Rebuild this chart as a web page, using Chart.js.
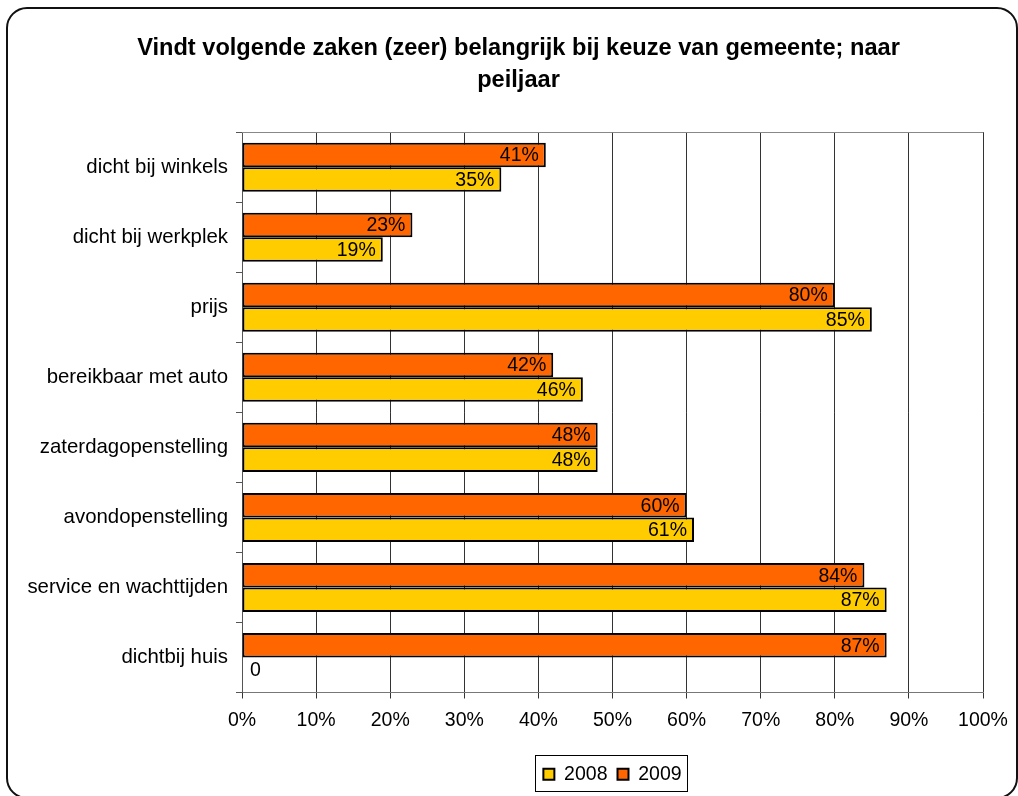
<!DOCTYPE html>
<html>
<head>
<meta charset="utf-8">
<script src="https://cdn.jsdelivr.net/npm/chart.js@4"></script>
<style>
  html, body { margin: 0; padding: 0; background: #fff; overflow: hidden; }
  #wrap { position: relative; width: 1018px; height: 796px; }
</style>
</head>
<body>
<div id="wrap"><canvas id="chart" width="1018" height="796"></canvas></div>
<script>
// Chart data
const categories = [
  'dicht bij winkels',
  'dicht bij werkplek',
  'prijs',
  'bereikbaar met auto',
  'zaterdagopenstelling',
  'avondopenstelling',
  'service en wachttijden',
  'dichtbij huis',
];
const values2009 = [41, 23, 80, 42, 48, 60, 84, 87];
const values2008 = [35, 19, 85, 46, 48, 61, 87, 0];
const xTicks = [0, 10, 20, 30, 40, 50, 60, 70, 80, 90, 100];

const FONT = '"Liberation Sans", Arial, sans-serif';
Chart.defaults.font.family = FONT;
Chart.defaults.color = '#000';

// Helper: format a bar label
const fmtLabel = (v) => (v === 0 ? '0' : v + '%');

// Rounded frame around the whole picture
const framePlugin = {
  id: 'frame',
  beforeDraw(chart) {
    const ctx = chart.ctx;
    ctx.save();
    ctx.fillStyle = '#fff';
    ctx.fillRect(0, 0, chart.width, chart.height);
    ctx.strokeStyle = '#111';
    ctx.lineWidth = 2;
    ctx.beginPath();
    ctx.roundRect(7, 8, 1010, 790, 20);
    ctx.stroke();
    ctx.restore();
  },
};

// Center the title on the whole frame, not on the padded area
const titleShiftPlugin = {
  id: 'titleShift',
  afterLayout(chart) {
    const t = chart.titleBlock;
    if (t) {
      t.left += 27;
      t.right += 27;
    }
  },
};

// Top border of plot area
const topLinePlugin = {
  id: 'topLine',
  beforeDatasetsDraw(chart) {
    const { ctx, chartArea } = chart;
    ctx.save();
    ctx.strokeStyle = '#888';
    ctx.lineWidth = 1;
    ctx.beginPath();
    ctx.moveTo(chartArea.left, Math.round(chartArea.top) + 0.5);
    ctx.lineTo(chartArea.right, Math.round(chartArea.top) + 0.5);
    ctx.stroke();
    ctx.restore();
  },
};

// Value labels inside the bar ends
const barLabelPlugin = {
  id: 'barLabels',
  afterDatasetsDraw(chart) {
    const ctx = chart.ctx;
    ctx.save();
    ctx.font = '19.5px ' + FONT;
    ctx.fillStyle = '#000';
    ctx.textBaseline = 'middle';
    chart.data.datasets.forEach((ds, i) => {
      const meta = chart.getDatasetMeta(i);
      meta.data.forEach((bar, j) => {
        const v = ds.data[j];
        const { x, y, base } = bar.getProps(['x', 'y', 'base'], true);
        if (v === 0) {
          ctx.textAlign = 'left';
          ctx.fillText(fmtLabel(v), base + 8, y + 1);
        } else {
          ctx.textAlign = 'right';
          ctx.fillText(fmtLabel(v), x - 7, y + 1);
        }
      });
    });
    ctx.restore();
  },
};

// Border around the legend
const legendBoxPlugin = {
  id: 'legendBox',
  afterDraw(chart) {
    const boxes = chart.legend && chart.legend.legendHitBoxes;
    if (!boxes || !boxes.length) return;
    let l = Infinity, r = -Infinity, t = Infinity, b = -Infinity;
    for (const h of boxes) {
      l = Math.min(l, h.left);
      r = Math.max(r, h.left + h.width);
      t = Math.min(t, h.top);
      b = Math.max(b, h.top + h.height);
    }
    const ctx = chart.ctx;
    ctx.save();
    ctx.strokeStyle = '#000';
    ctx.lineWidth = 1;
    ctx.strokeRect(Math.round(l - 8) + 0.5, Math.round(t - 10) + 0.5, Math.round(r - l + 14), Math.round(b - t + 16));
    ctx.restore();
  },
};

const ctx = document.getElementById('chart').getContext('2d');

const myChart = new Chart(ctx, {
  type: 'bar',
  data: {
    labels: categories,
    datasets: [
      {
        label: '2009',
        data: values2009,
        backgroundColor: '#FF6600',
        borderColor: '#000',
        borderWidth: 2,
        borderSkipped: false,
      },
      {
        label: '2008',
        data: values2008,
        backgroundColor: '#FFCC00',
        borderColor: '#000',
        borderWidth: 2,
        borderSkipped: false,
      },
    ],
  },
  options: {
    indexAxis: 'y',
    responsive: false,
    animation: false,
    devicePixelRatio: 1,
    categoryPercentage: 0.7,
    barPercentage: 1,
    layout: {
      padding: { left: 0, right: 35, top: 0, bottom: 2 },
    },
    plugins: {
      title: {
        display: true,
        text: ['Vindt volgende zaken (zeer) belangrijk bij keuze van gemeente; naar', 'peiljaar'],
        color: '#000',
        font: { size: 23.6, weight: 'bold', family: FONT, lineHeight: 1.36 },
        padding: { top: 32, bottom: 36 },
      },
      legend: {
        position: 'bottom',
        fullSize: false,
        reverse: true,
        labels: {
          boxWidth: 11,
          boxHeight: 11,
          padding: 10,
          color: '#000',
          font: { size: 19.5, family: FONT },
        },
      },
      tooltip: { enabled: false },
    },
    scales: {
      x: {
        min: 0,
        max: 100,
        afterBuildTicks: (scale) => {
          scale.ticks = xTicks.map((v) => ({ value: v }));
        },
        afterFit: (scale) => {
          scale.height = 62;
        },
        grid: {
          color: '#333',
          lineWidth: 1,
          tickLength: 6,
        },
        border: { display: true, color: '#777' },
        ticks: {
          padding: 10,
          color: '#000',
          font: { size: 19.5, family: FONT },
          callback: (v) => v + '%',
        },
      },
      y: {
        afterFit: (scale) => {
          scale.width = 242;
        },
        grid: {
          drawOnChartArea: false,
          color: '#555',
          tickLength: 6,
        },
        border: { display: true, color: '#555' },
        ticks: {
          padding: 8,
          color: '#000',
          font: { size: 20.4, family: FONT },
        },
      },
    },
  },
  plugins: [framePlugin, titleShiftPlugin, topLinePlugin, barLabelPlugin, legendBoxPlugin],
});
</script>
</body>
</html>
